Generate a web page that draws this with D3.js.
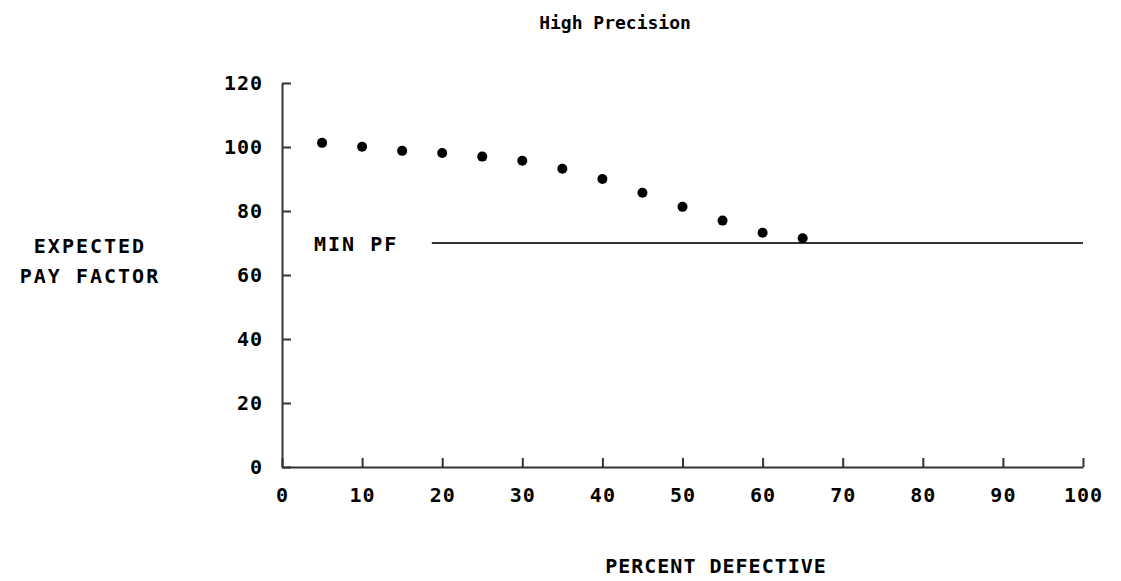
<!DOCTYPE html>
<html>
<head>
<meta charset="utf-8">
<script src="https://cdn.jsdelivr.net/npm/d3@7"></script>
<style>
  body { margin: 0; background: #fff; }
  text { font-family: "DejaVu Sans Mono", monospace; font-weight: bold; fill: #000; }
</style>
</head>
<body>
<div id="chart-area"></div>
<script>
// Data
let percentDefective = [5, 10, 15, 20, 25, 30, 35, 40, 45, 50, 55, 60, 65];
let payFactor = [101.3, 100.1, 98.8, 98.1, 97, 95.7, 93.2, 90, 85.7, 81.3, 77, 73.2, 71.5];
let minPF = 70;
let minPFStart = 18.7;
let xTicks = [0, 10, 20, 30, 40, 50, 60, 70, 80, 90, 100];
let yTicks = [0, 20, 40, 60, 80, 100, 120];

let svg = d3.select("#chart-area")
	.append("svg")
	.attr("width", 1121)
	.attr("height", 581);

// Scales
let x = d3.scaleLinear()
	.domain([0, 100])
	.range([282, 1083]);

let y = d3.scaleLinear()
	.domain([0, 120])
	.range([467, 83]);

const axisColor = "#333";

// X Axis (ticks point inward)
let xAxisCall = d3.axisBottom(x)
	.tickValues(xTicks)
	.tickSizeInner(-9)
	.tickSizeOuter(0)
	.tickPadding(21);
let xAxis = svg.append("g")
	.attr("transform", "translate(0," + y(0) + ")")
	.call(xAxisCall);

// Y Axis
let yAxisCall = d3.axisLeft(y)
	.tickValues(yTicks)
	.tickSizeInner(-9)
	.tickSizeOuter(0)
	.tickPadding(19);
let yAxis = svg.append("g")
	.attr("transform", "translate(" + x(0) + ",0)")
	.call(yAxisCall);

[xAxis, yAxis].forEach((a) => {
	a.select(".domain").attr("stroke", axisColor).attr("stroke-width", 2);
	a.selectAll(".tick line").attr("stroke", axisColor).attr("stroke-width", 2);
	a.selectAll(".tick text")
		.attr("font-family", "DejaVu Sans Mono")
		.attr("font-weight", "bold")
		.attr("font-size", "20px")
		.attr("letter-spacing", "1px")
		.attr("fill", "#000");
});
xAxis.selectAll(".tick line").attr("y1", 0);
yAxis.selectAll(".tick line").attr("x1", 0);

// Minimum pay factor line
svg.append("line")
	.attr("x1", x(minPFStart))
	.attr("x2", x(100))
	.attr("y1", y(minPF))
	.attr("y2", y(minPF))
	.attr("stroke", axisColor)
	.attr("stroke-width", 2);

svg.append("text")
	.attr("x", 314)
	.attr("y", y(minPF) + 8)
	.attr("font-size", "20px")
	.attr("letter-spacing", "2px")
	.text("MIN PF");

// Points
svg.selectAll("circle")
	.data(percentDefective)
	.enter()
	.append("circle")
	.attr("cx", (d) => x(d))
	.attr("cy", (d, i) => y(payFactor[i]))
	.attr("r", 5)
	.attr("fill", "#000");

// Labels
svg.append("text")
	.attr("x", 615)
	.attr("y", 29)
	.attr("text-anchor", "middle")
	.attr("font-size", "18px")
	.text("High Precision");

svg.append("text")
	.attr("x", 90)
	.attr("y", 253)
	.attr("text-anchor", "middle")
	.attr("font-size", "20px")
	.attr("letter-spacing", "2px")
	.text("EXPECTED");

svg.append("text")
	.attr("x", 90)
	.attr("y", 283)
	.attr("text-anchor", "middle")
	.attr("font-size", "20px")
	.attr("letter-spacing", "2px")
	.text("PAY FACTOR");

svg.append("text")
	.attr("x", 716)
	.attr("y", 573)
	.attr("text-anchor", "middle")
	.attr("font-size", "20px")
	.attr("letter-spacing", "1px")
	.text("PERCENT DEFECTIVE");
</script>
</body>
</html>
